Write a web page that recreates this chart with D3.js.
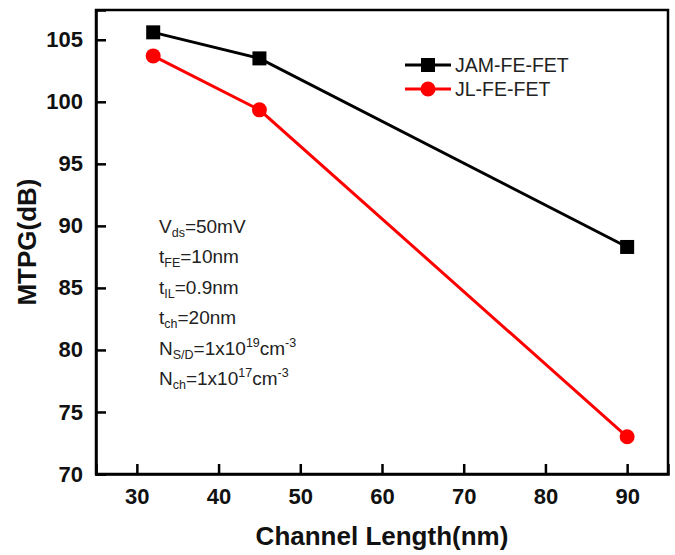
<!DOCTYPE html>
<html>
<head>
<meta charset="utf-8">
<script src="https://cdn.jsdelivr.net/npm/d3@7"></script>
<style>
  html, body { margin: 0; padding: 0; background: #fff; }
  svg { display: block; font-family: "Liberation Sans", Arial, sans-serif; }
</style>
</head>
<body>
<svg id="chart" width="675" height="555"></svg>
<script>
// Channel length sweep (nm)
const channelLength = [32, 45, 90];
// MTPG (dB) for each device
const jamValues = [105.6, 103.5, 88.3];
const jlValues = [103.7, 99.35, 73.0];
const seriesNames = ["JAM-FE-FET", "JL-FE-FET"];
const xTicks = [30, 40, 50, 60, 70, 80, 90];
const yTicks = [70, 75, 80, 85, 90, 95, 100, 105];

const svg = d3.select("#chart");
const margin = { left: 96, top: 10, right: 7, bottom: 81 };
const W = 675, H = 555;
const plotW = W - margin.left - margin.right;
const plotH = H - margin.top - margin.bottom;

const x = d3.scaleLinear().domain([25, 95]).range([margin.left, margin.left + plotW]);
const y = d3.scaleLinear().domain([70, 107.4]).range([margin.top + plotH, margin.top]);

// Frame
svg.append("rect")
  .attr("x", margin.left).attr("y", margin.top)
  .attr("width", plotW).attr("height", plotH)
  .attr("fill", "none").attr("stroke", "#000").attr("stroke-width", 2.5);

// Axes with inward ticks
const xAxis = svg.append("g")
  .attr("transform", `translate(0,${margin.top + plotH})`)
  .call(d3.axisBottom(x).tickValues(xTicks).tickSize(-10).tickPadding(14));
const yAxis = svg.append("g")
  .attr("transform", `translate(${margin.left},0)`)
  .call(d3.axisLeft(y).tickValues(yTicks).tickSize(-10).tickPadding(13));

[xAxis, yAxis].forEach(g => {
  g.select(".domain").attr("stroke", "#000").attr("stroke-width", 2.5);
  g.selectAll(".tick line").attr("stroke", "#000").attr("stroke-width", 2.5);
  g.selectAll(".tick text")
    .attr("fill", "#111")
    .style("font-size", "22px")
    .style("font-weight", "bold")
    .style("font-family", "'Liberation Sans', Arial, sans-serif");
});

// Axis titles
svg.append("text")
  .attr("x", 382).attr("y", 545)
  .attr("text-anchor", "middle")
  .style("font-size", "26px").style("font-weight", "bold")
  .attr("fill", "#111")
  .text("Channel Length(nm)");
svg.append("text")
  .attr("transform", `translate(36,${margin.top + plotH / 2}) rotate(-90)`)
  .attr("text-anchor", "middle")
  .style("font-size", "26px").style("font-weight", "bold")
  .attr("fill", "#111")
  .text("MTPG(dB)");

// Series
const series = [
  { name: seriesNames[0], values: jamValues, color: "#000", shape: "square" },
  { name: seriesNames[1], values: jlValues, color: "#ff0000", shape: "circle" }
];
const line = d3.line().x(d => x(d[0])).y(d => y(d[1]));

function marker(g, shape, cx, cy, color) {
  if (shape === "square") {
    g.append("rect").attr("x", cx - 7).attr("y", cy - 7)
      .attr("width", 14).attr("height", 14).attr("fill", color);
  } else {
    g.append("circle").attr("cx", cx).attr("cy", cy).attr("r", 7.5).attr("fill", color);
  }
}

series.forEach(s => {
  const pts = channelLength.map((c, i) => [c, s.values[i]]);
  svg.append("path").datum(pts)
    .attr("d", line).attr("fill", "none")
    .attr("stroke", s.color).attr("stroke-width", 3);
  const g = svg.append("g");
  pts.forEach(p => marker(g, s.shape, x(p[0]), y(p[1]), s.color));
});

// Legend
series.forEach((s, i) => {
  const ly = 65 + i * 24;
  svg.append("line").attr("x1", 405).attr("x2", 451).attr("y1", ly).attr("y2", ly)
    .attr("stroke", s.color).attr("stroke-width", 3);
  marker(svg, s.shape, 428, ly, s.color);
  svg.append("text").attr("x", 455).attr("y", ly + 7)
    .style("font-size", "19.5px").attr("fill", "#222").text(s.name);
});

// Simulation parameters
const params = [
  { main: "V", sub: "ds", rest: "=50mV" },
  { main: "t", sub: "FE", rest: "=10nm" },
  { main: "t", sub: "IL", rest: "=0.9nm" },
  { main: "t", sub: "ch", rest: "=20nm" },
  { main: "N", sub: "S/D", rest: "=1x10", sup1: "19", rest2: "cm", sup2: "-3" },
  { main: "N", sub: "ch", rest: "=1x10", sup1: "17", rest2: "cm", sup2: "-3" }
];
params.forEach((p, i) => {
  const t = svg.append("text").attr("x", 159).attr("y", 233 + i * 30.4)
    .style("font-size", "19px").attr("fill", "#222");
  t.append("tspan").text(p.main);
  t.append("tspan").attr("dy", 4).style("font-size", "12.5px").text(p.sub);
  t.append("tspan").attr("dy", -4).text(p.rest);
  if (p.sup1) {
    t.append("tspan").attr("dy", -8).style("font-size", "12.5px").text(p.sup1);
    t.append("tspan").attr("dy", 8).text(p.rest2);
    t.append("tspan").attr("dy", -8).style("font-size", "12.5px").text(p.sup2);
  }
});
</script>
</body>
</html>
